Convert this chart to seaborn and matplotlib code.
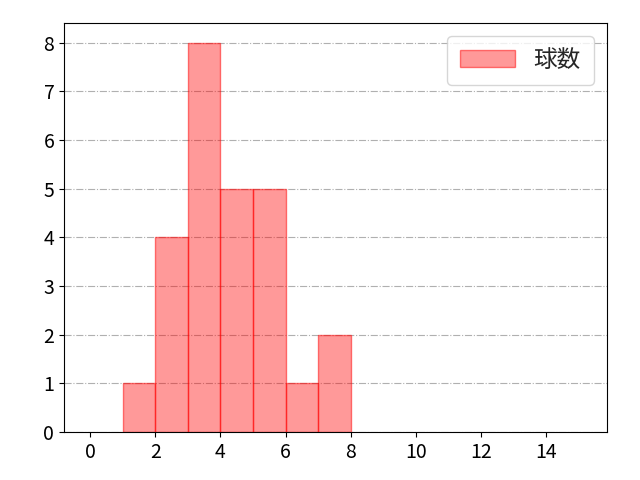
import numpy as np
import matplotlib
matplotlib.use("Agg")
import matplotlib.pyplot as plt
import seaborn as sns

sns.set_style("ticks")
plt.rcParams["font.family"] = ["Noto Sans CJK JP", "DejaVu Sans"]

# bin left edges and counts
bin_starts = [1, 2, 3, 4, 5, 6, 7]
bin_counts = [1, 4, 8, 5, 5, 1, 2]
values = np.repeat(bin_starts, bin_counts) + 0.5
label = "球数"

fig, ax = plt.subplots(figsize=(6.4, 4.8), dpi=100)
sns.histplot(x=values, bins=np.arange(1, 9), color="red", alpha=0.4,
             edgecolor=(1, 0, 0, 0.5), linewidth=1, label=label, ax=ax)
ax.set_xlim(-0.8, 15.85)
ax.set_ylim(0, 8.4)
ax.set_xticks(range(0, 16, 2))
ax.set_yticks(range(0, 9))
ax.set_xlabel("")
ax.set_ylabel("")
ax.tick_params(labelsize=14, colors="black")
ax.grid(axis="y", linestyle="-.", color="#b0b0b0", linewidth=0.8)
ax.set_axisbelow(True)
ax.legend(loc="upper right", fontsize=17, handlelength=2.3, borderpad=0.55,
          borderaxespad=0.55)
for s in ax.spines.values():
    s.set_visible(True)
    s.set_color("black")
fig.subplots_adjust(left=0.1, right=0.948, top=0.952, bottom=0.1)
fig.savefig("out.png")
